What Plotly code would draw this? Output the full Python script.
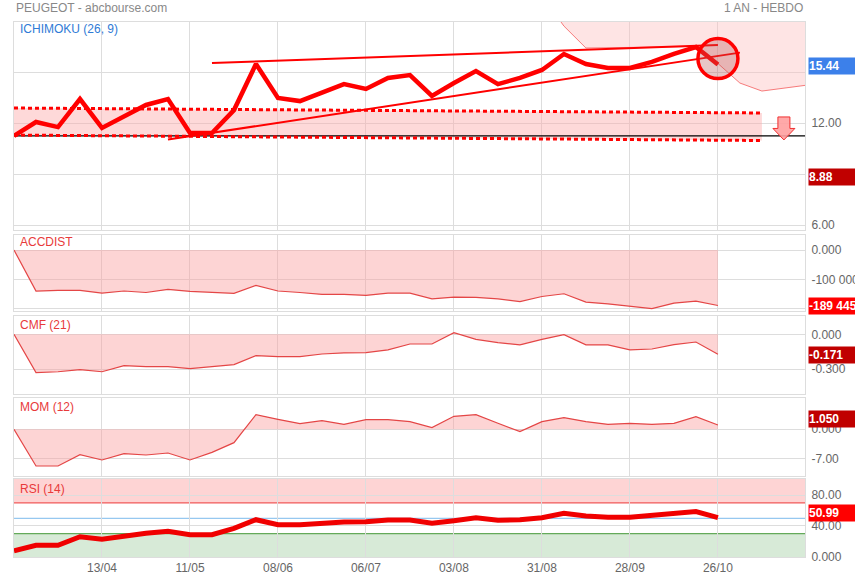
import plotly.graph_objects as go

# ---------------- data ----------------
dates = ["2015-03-16", "2015-03-23", "2015-03-30", "2015-04-06", "2015-04-13", "2015-04-20",
         "2015-04-27", "2015-05-04", "2015-05-11", "2015-05-18", "2015-05-25", "2015-06-01",
         "2015-06-08", "2015-06-15", "2015-06-22", "2015-06-29", "2015-07-06", "2015-07-13",
         "2015-07-20", "2015-07-27", "2015-08-03", "2015-08-10", "2015-08-17", "2015-08-24",
         "2015-08-31", "2015-09-07", "2015-09-14", "2015-09-21", "2015-09-28", "2015-10-05",
         "2015-10-12", "2015-10-19", "2015-10-26"]

price = [11.24, 12.06, 11.76, 13.41, 11.71, 12.35, 13.06, 13.41, 11.41, 11.41, 12.76, 15.47,
         13.47, 13.29, 13.82, 14.29, 14.00, 14.65, 14.82, 13.59, 14.35, 15.06, 14.29, 14.65,
         15.12, 16.06, 15.47, 15.24, 15.24, 15.59, 16.06, 16.47, 15.44]

accdist = [0, -140000, -138000, -138000, -147000, -140000, -145000, -134500, -141000, -145000,
           -148000, -120700, -140000, -145000, -151700, -151700, -155000, -147000, -147000,
           -166700, -161000, -162000, -166700, -175900, -158600, -149400, -178000, -183900,
           -190800, -200000, -181600, -174700, -189445]

cmf = [0, -0.329, -0.321, -0.303, -0.321, -0.269, -0.277, -0.277, -0.294, -0.277, -0.260,
       -0.183, -0.191, -0.191, -0.169, -0.160, -0.157, -0.134, -0.083, -0.083, 0.014, -0.043,
       -0.071, -0.091, -0.043, -0.003, -0.091, -0.091, -0.134, -0.126, -0.089, -0.066, -0.171]

mom = [0, -8.86, -8.86, -6.12, -7.40, -5.88, -6.20, -5.72, -7.40, -5.56, -3.22, 3.54, 2.41,
       1.37, 2.09, 1.20, 2.33, 2.33, 1.85, 0.40, 3.13, 3.54, 1.45, -0.56, 1.85, 2.82, 1.85,
       1.20, 1.45, 1.20, 1.45, 3.06, 1.05]

rsi = [7.8, 14.8, 14.8, 26.0, 22.6, 27.0, 30.5, 33.0, 28.7, 28.7, 37.0, 48.2, 41.7, 41.7,
       43.9, 45.2, 45.6, 47.8, 47.8, 43.5, 46.9, 50.8, 47.4, 48.2, 50.8, 56.5, 53.0, 51.3,
       51.3, 53.9, 56.5, 58.7, 50.99]

# drawings on the Ichimoku panel
band_dates = ["2015-03-16", "2015-11-09"]
band_upper = [12.88, 12.59]
band_lower = [11.29, 10.97]
ref_level = 11.24
trend_top_dates = ["2015-05-18", "2015-10-26"]
trend_top_vals = [15.53, 16.59]
trend_up_dates = ["2015-05-04", "2015-11-02"]
trend_up_vals = [11.03, 16.14]
cloud_dates = ["2015-08-31", "2015-09-07", "2015-09-14", "2015-09-21", "2015-09-28",
               "2015-10-05", "2015-10-12", "2015-10-19", "2015-10-26", "2015-11-02",
               "2015-11-09", "2015-11-16", "2015-11-23"]
cloud_top = [19.5] * len(cloud_dates)
cloud_low = [19.5, 17.70, 16.41, 16.42, 16.44, 16.46, 16.48, 16.50, 15.50, 14.35,
             13.88, 14.05, 14.22]
circle_date = ["2015-10-26"]
circle_val = [15.79]
arrow_date = "2015-11-16"
arrow_val = 11.68
low_value = 8.88

rsi_high, rsi_mid, rsi_low = 70, 50, 30

tick_dates = ["2015-04-13", "2015-05-11", "2015-06-08", "2015-07-06",
              "2015-08-03", "2015-08-31", "2015-09-28", "2015-10-26"]
tick_labels = ["13/04", "11/05", "08/06", "06/07", "03/08", "31/08", "28/09", "26/10"]

# ---------------- figure ----------------
FONT = "Arial, Liberation Sans, sans-serif"
GRID = "#dddddd"
PINK = "rgba(250,160,160,0.45)"
LINE_THIN = "rgb(228,70,70)"

fig = go.Figure()

# cloud
fig.add_trace(go.Scatter(x=cloud_dates, y=cloud_top, mode="lines",
                         line=dict(width=0, color="rgba(0,0,0,0)"), xaxis="x", yaxis="y",
                         hoverinfo="skip"))
fig.add_trace(go.Scatter(x=cloud_dates, y=cloud_low, mode="lines", fill="tonexty",
                         fillcolor="rgba(252,190,190,0.42)",
                         line=dict(width=1, color="rgba(245,110,110,0.9)"),
                         xaxis="x", yaxis="y", hoverinfo="skip"))
# band
fig.add_trace(go.Scatter(x=band_dates, y=band_lower, mode="lines",
                         line=dict(width=0, color="rgba(0,0,0,0)"), xaxis="x", yaxis="y"))
fig.add_trace(go.Scatter(x=band_dates, y=band_upper, mode="lines", fill="tonexty",
                         fillcolor="rgba(252,170,170,0.45)",
                         line=dict(width=0, color="rgba(0,0,0,0)"), xaxis="x", yaxis="y"))
# reference line
fig.add_trace(go.Scatter(x=[dates[0], "2015-11-23"], y=[ref_level, ref_level], mode="lines",
                         line=dict(width=1.2, color="black"), xaxis="x", yaxis="y"))
# dotted band edges
for vals in (band_upper, band_lower):
    fig.add_trace(go.Scatter(x=band_dates, y=vals, mode="lines",
                             line=dict(width=3, color="#ff0000", dash="4px,3px"),
                             xaxis="x", yaxis="y"))
# trend lines
fig.add_trace(go.Scatter(x=trend_top_dates, y=trend_top_vals, mode="lines",
                         line=dict(width=2, color="#ff0000"), xaxis="x", yaxis="y"))
fig.add_trace(go.Scatter(x=trend_up_dates, y=trend_up_vals, mode="lines",
                         line=dict(width=2, color="#ff0000"), xaxis="x", yaxis="y"))
# price
fig.add_trace(go.Scatter(x=dates, y=price, mode="lines",
                         line=dict(width=4.5, color="#ff0000"), xaxis="x", yaxis="y"))
# circle
fig.add_trace(go.Scatter(x=circle_date, y=circle_val, mode="markers",
                         marker=dict(size=40, color="rgba(185,80,80,0.32)",
                                     line=dict(width=3.5, color="#ff0000")),
                         xaxis="x", yaxis="y"))

# ACCDIST
fig.add_trace(go.Scatter(x=dates, y=accdist, mode="lines", fill="tozeroy", fillcolor=PINK,
                         line=dict(width=1.2, color=LINE_THIN), xaxis="x2", yaxis="y2"))
# CMF
fig.add_trace(go.Scatter(x=dates, y=cmf, mode="lines", fill="tozeroy", fillcolor=PINK,
                         line=dict(width=1.2, color=LINE_THIN), xaxis="x3", yaxis="y3"))
# MOM
fig.add_trace(go.Scatter(x=dates, y=mom, mode="lines", fill="tozeroy", fillcolor=PINK,
                         line=dict(width=1.2, color=LINE_THIN), xaxis="x4", yaxis="y4"))
# RSI
fig.add_trace(go.Scatter(x=dates, y=rsi, mode="lines",
                         line=dict(width=5, color="#f00000"), xaxis="x5", yaxis="y5"))

# ---------------- layout ----------------
W, H = 855, 580
ML, MR, MT, MB = 14, 50, 22, 23
ph = H - MT - MB


def py(pix):
    return (H - MB - pix) / ph


domains = {
    "y": [py(230), 1.0],
    "y2": [py(311), py(235)],
    "y3": [py(394), py(316)],
    "y4": [py(476), py(398)],
    "y5": [0.0, py(479)],
}

xrange_ = ["2015-03-16", "2015-11-22 17:00"]
tickfont = dict(family=FONT, size=12, color="#666666")

layout = dict(
    width=W, height=H, margin=dict(l=ML, r=MR, t=MT, b=MB, autoexpand=False),
    paper_bgcolor="white", plot_bgcolor="white", showlegend=False,
    font=dict(family=FONT, size=12, color="#666666"),
)
for i in range(1, 6):
    xa = "xaxis" if i == 1 else f"xaxis{i}"
    ya_name = "y" if i == 1 else f"y{i}"
    layout[xa] = dict(
        domain=[0, 1], anchor=ya_name, range=xrange_, type="date",
        tickvals=tick_dates, ticktext=tick_labels, showticklabels=(i == 5),
        showgrid=True, gridcolor=GRID, gridwidth=1, zeroline=False,
        showline=True, mirror=True, linecolor=GRID, linewidth=1,
        ticks="", tickfont=tickfont,
    )
    if i > 1:
        layout[xa]["matches"] = "x"

common_y = dict(side="right", showgrid=True, gridcolor=GRID, zeroline=False,
                showline=True, mirror=True, linecolor=GRID, ticks="", tickfont=tickfont,
                ticklabelstandoff=3, fixedrange=True)

layout["yaxis"] = dict(common_y, domain=domains["y"], anchor="x", range=[5.706, 17.941],
                       tickvals=[6, 9, 12, 15], ticktext=["6.00", "9.00", "12.00", ""])
layout["yaxis2"] = dict(common_y, domain=domains["y2"], anchor="x2", range=[-208200, 51200],
                        tickvals=[-200000, -100000, 0], ticktext=["", "-100 000", "0.000"])
layout["yaxis3"] = dict(common_y, domain=domains["y3"], anchor="x3", range=[-0.512, 0.157],
                        tickvals=[-0.3, 0], ticktext=["-0.300", "0.000"])
layout["yaxis4"] = dict(common_y, domain=domains["y4"], anchor="x4", range=[-11.27, 7.55],
                        tickvals=[-7, 0], ticktext=["-7.00", "0.000"])
layout["yaxis5"] = dict(common_y, domain=domains["y5"], anchor="x5", range=[-0.4, 101.2],
                        tickvals=[0, 40, 80], ticktext=["0.000", "40.00", "80.00"])

fig.update_layout(**layout)

# RSI zones
fig.add_shape(type="rect", xref="x5 domain", yref="y5", x0=0, x1=1, y0=rsi_high, y1=101.2,
              fillcolor="rgba(252,160,160,0.45)", line=dict(width=0), layer="below")
fig.add_shape(type="rect", xref="x5 domain", yref="y5", x0=0, x1=1, y0=-0.4, y1=rsi_low,
              fillcolor="rgba(150,200,150,0.38)", line=dict(width=0), layer="below")
for lvl, col in ((rsi_high, "rgb(240,90,90)"), (rsi_mid, "rgb(150,200,240)"),
                 (rsi_low, "rgb(100,170,90)")):
    fig.add_shape(type="line", xref="x5 domain", yref="y5", x0=0, x1=1, y0=lvl, y1=lvl,
                  line=dict(width=1.3, color=col), layer="below")

# down arrow icon
fig.add_shape(type="path", xref="x", yref="y", xsizemode="pixel", ysizemode="pixel",
              xanchor=arrow_date, yanchor=arrow_val,
              path="M-6,11.5 L6,11.5 L6,0 L11,0 L0,-11.5 L-11,0 L-6,0 Z",
              fillcolor="rgba(255,160,160,0.9)", line=dict(width=1, color="#f03030"))

# titles
fig.add_annotation(text="PEUGEOT - abcbourse.com", xref="paper", yref="paper", x=0, y=py(8),
                   xanchor="left", yanchor="middle", showarrow=False,
                   font=dict(family=FONT, size=12, color="#888888"))
fig.add_annotation(text="1 AN - HEBDO", xref="paper", yref="paper", x=1, y=py(8),
                   xanchor="right", yanchor="middle", showarrow=False,
                   font=dict(family=FONT, size=12, color="#888888"))

labels = [("ICHIMOKU (26, 9)", 29, "#2f7bd6"), ("ACCDIST", 242.5, "#e83a3a"),
          ("CMF (21)", 325, "#e83a3a"), ("MOM (12)", 406.5, "#e83a3a"),
          ("RSI (14)", 488.5, "#e83a3a")]
for txt, ypix, col in labels:
    fig.add_annotation(text=txt, xref="paper", yref="paper", x=0, y=py(ypix), xshift=4,
                       xanchor="left", yanchor="middle", showarrow=False,
                       font=dict(family=FONT, size=12, color=col))

badges = [("15.44", price[-1], "y", "#3c80ea", -1.5),
          ("8.88", low_value, "y", "#c00000", -1),
          ("-189 445", accdist[-1], "y2", "#ff0000", 0),
          ("-0.171", cmf[-1], "y3", "#c00000", -0.5),
          ("1.050", mom[-1], "y4", "#c00000", 5.5),
          ("50.99", rsi[-1], "y5", "#ff0000", 5)]
for txt, val, yr, col, ysh in badges:
    fig.add_annotation(text="<b>" + txt + "</b>", xref="paper", yref=yr, x=1, y=val,
                       xshift=3, yshift=ysh, xanchor="left", yanchor="middle",
                       showarrow=False, bgcolor=col, width=52, height=16, align="left",
                       borderpad=0, font=dict(family=FONT, size=12, color="white"))

fig.write_html("out.html", config={"displayModeBar": False},
               post_script="document.body.style.margin='0px';document.body.style.overflow='hidden';")
